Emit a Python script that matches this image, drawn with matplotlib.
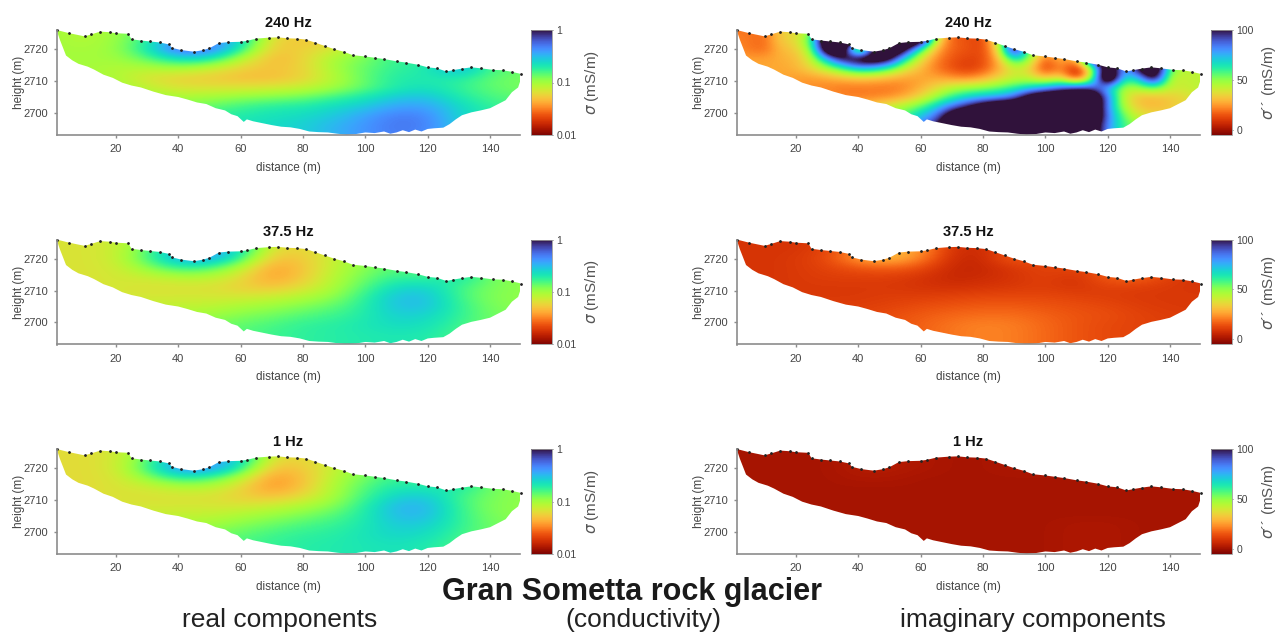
import numpy as np
import matplotlib
matplotlib.use("Agg")
import matplotlib.pyplot as plt
from matplotlib.patches import Polygon

plt.rcParams['font.family'] = ['Liberation Sans', 'DejaVu Sans']

W, H = 1280, 634

# ground surface (electrodes) and lower limit of the section
top_x = [1, 5, 10, 12, 15, 18, 20, 24, 25, 28, 31, 34, 37, 38, 41, 45, 48, 50, 53, 56, 60, 62, 65, 69, 72, 75, 78, 81,
         84, 87, 90, 93, 96, 100, 103, 106, 110, 113, 117, 120, 123, 126, 128, 131, 134, 137, 141, 144, 147, 150]
top_h = [2726, 2725, 2724, 2724.6, 2725.5, 2725.3, 2725, 2724.8, 2723.1, 2722.7, 2722.4, 2722.1, 2721.5, 2720.4, 2719.7,
         2719.2, 2719.7, 2720.3, 2721.9, 2722.2, 2722.3, 2722.6, 2723.3, 2723.6, 2723.7, 2723.4, 2723.3, 2723,
         2722, 2721, 2720, 2719.2, 2718.1, 2717.7, 2717.3, 2716.9, 2716.2, 2715.8, 2715.1, 2714.3, 2714,
         2713, 2713.4, 2713.9, 2714.3, 2714, 2713.5, 2713.4, 2712.9, 2712.2]
bot_x = [150, 149, 147, 145, 143, 140, 137, 134, 131, 129, 127, 125, 122, 120, 118, 116, 114, 112, 110, 108, 106, 103,
         100, 97, 94, 91, 88, 85, 82, 79, 76, 73, 70, 67, 64, 62, 61, 59, 57, 55, 52, 49, 46, 43, 40, 36, 32, 28, 25,
         22, 19, 16, 13, 11, 8, 6, 4, 3, 2, 1]
bot_h = [2711, 2708, 2706.5, 2704, 2703, 2701.5, 2700.8, 2700.2, 2699.3, 2698, 2696.5, 2695.4, 2695.2, 2695, 2694.2,
         2694.8, 2694, 2694.6, 2693.9, 2693.5, 2694.2, 2693.7, 2693.9, 2693.4, 2693.2, 2693.5, 2693.9, 2694,
         2694.2, 2695, 2695.5, 2695.7, 2696.2, 2696.8, 2697.4, 2698, 2697.2, 2699, 2699.6, 2700.8, 2701.5, 2702.8,
         2703.3, 2704.2, 2705, 2705.6, 2706.7, 2708, 2708.6, 2709.5, 2711, 2712, 2713.6, 2714.5, 2715.4, 2716.5,
         2718, 2720.5, 2723, 2726]

heights = [2726, 2723, 2720, 2717, 2714, 2711, 2708, 2705, 2702, 2699, 2696, 2693]
x_10 = list(range(0, 151, 10))
x_5 = list(range(0, 151, 5))

# log10 of the real conductivity
real_240 = [
    [-1.00, -1.05, -1.00, -0.80, -0.30, -0.30, -0.50, -1.15, -1.20, -1.10, -0.95, -0.80, -0.80, -0.70, -0.85, -0.90],
    [-1.00, -1.05, -0.98, -0.75, -0.35, -0.35, -0.55, -1.25, -1.30, -1.25, -0.95, -0.80, -0.80, -0.50, -0.85, -0.90],
    [-1.00, -1.02, -0.98, -0.68, -0.20, -0.25, -0.70, -1.30, -1.25, -1.15, -0.95, -0.80, -0.80, -0.55, -0.85, -0.90],
    [-1.00, -1.00, -1.00, -0.85, -0.62, -0.65, -1.05, -1.35, -1.25, -1.00, -0.90, -0.75, -0.75, -0.60, -0.85, -0.90],
    [-1.00, -1.00, -1.05, -1.05, -1.00, -1.10, -1.25, -1.30, -1.25, -1.00, -0.85, -0.75, -0.70, -0.40, -0.80, -0.85],
    [-1.00, -1.00, -1.02, -1.18, -1.25, -1.27, -1.32, -1.32, -1.25, -1.05, -0.85, -0.70, -0.70, -0.70, -0.85, -0.90],
    [-1.00, -1.00, -1.00, -1.08, -1.18, -1.18, -1.18, -1.15, -1.10, -1.00, -0.85, -0.70, -0.65, -0.75, -0.85, -0.90],
    [-1.00, -1.00, -0.98, -0.98, -1.02, -1.00, -0.95, -0.92, -0.88, -0.78, -0.68, -0.55, -0.52, -0.70, -0.80, -0.85],
    [-0.95, -0.95, -0.95, -0.95, -0.92, -0.85, -0.78, -0.72, -0.70, -0.62, -0.55, -0.42, -0.42, -0.60, -0.75, -0.80],
    [-0.85, -0.85, -0.85, -0.85, -0.82, -0.75, -0.70, -0.65, -0.62, -0.55, -0.42, -0.30, -0.33, -0.60, -0.70, -0.80],
    [-0.80, -0.80, -0.80, -0.80, -0.80, -0.72, -0.66, -0.62, -0.58, -0.48, -0.38, -0.28, -0.32, -0.55, -0.70, -0.80],
    [-0.80, -0.80, -0.80, -0.80, -0.80, -0.72, -0.66, -0.62, -0.58, -0.48, -0.38, -0.30, -0.35, -0.55, -0.70, -0.80],
]
real_37 = [
    [-1.17, -1.17, -1.12, -0.90, -0.45, -0.40, -0.55, -1.10, -1.15, -1.05, -0.95, -0.85, -0.85, -0.75, -0.90, -0.95],
    [-1.17, -1.17, -1.12, -0.85, -0.50, -0.42, -0.60, -1.20, -1.25, -1.10, -0.95, -0.85, -0.85, -0.62, -0.90, -0.95],
    [-1.17, -1.17, -1.12, -0.80, -0.45, -0.40, -0.75, -1.30, -1.28, -1.10, -0.95, -0.85, -0.85, -0.62, -0.90, -0.95],
    [-1.17, -1.17, -1.14, -0.95, -0.75, -0.80, -1.05, -1.42, -1.30, -1.08, -0.92, -0.82, -0.85, -0.68, -0.90, -0.95],
    [-1.17, -1.17, -1.15, -1.12, -1.05, -1.05, -1.20, -1.42, -1.28, -1.05, -0.88, -0.75, -0.78, -0.65, -0.88, -0.95],
    [-1.17, -1.17, -1.15, -1.18, -1.18, -1.18, -1.25, -1.30, -1.20, -1.02, -0.82, -0.62, -0.60, -0.78, -0.90, -0.95],
    [-1.15, -1.15, -1.15, -1.15, -1.15, -1.15, -1.15, -1.12, -1.05, -0.95, -0.75, -0.52, -0.52, -0.78, -0.92, -0.95],
    [-1.15, -1.15, -1.12, -1.10, -1.08, -1.08, -1.02, -0.98, -0.92, -0.85, -0.72, -0.52, -0.52, -0.75, -0.90, -0.95],
    [-1.12, -1.12, -1.10, -1.05, -1.02, -0.98, -0.92, -0.88, -0.82, -0.78, -0.70, -0.58, -0.60, -0.75, -0.88, -0.92],
    [-1.10, -1.10, -1.05, -1.00, -0.96, -0.90, -0.85, -0.80, -0.75, -0.72, -0.68, -0.62, -0.65, -0.78, -0.88, -0.92],
    [-1.05, -1.05, -1.00, -0.98, -0.92, -0.86, -0.82, -0.78, -0.74, -0.72, -0.70, -0.68, -0.70, -0.80, -0.88, -0.92],
    [-1.05, -1.05, -1.00, -0.98, -0.92, -0.86, -0.82, -0.78, -0.74, -0.72, -0.70, -0.68, -0.70, -0.80, -0.88, -0.92],
]
real_1 = [
    [-1.20, -1.20, -1.15, -0.90, -0.40, -0.40, -0.55, -1.10, -1.15, -1.05, -0.95, -0.85, -0.85, -0.70, -0.90, -0.95],
    [-1.20, -1.20, -1.15, -0.85, -0.45, -0.42, -0.55, -1.20, -1.25, -1.10, -0.95, -0.85, -0.85, -0.55, -0.90, -0.95],
    [-1.20, -1.20, -1.15, -0.78, -0.35, -0.35, -0.70, -1.32, -1.28, -1.10, -0.92, -0.80, -0.85, -0.58, -0.90, -0.95],
    [-1.20, -1.20, -1.17, -0.95, -0.72, -0.78, -1.05, -1.45, -1.32, -1.05, -0.88, -0.75, -0.80, -0.65, -0.90, -0.95],
    [-1.20, -1.20, -1.17, -1.14, -1.05, -1.05, -1.22, -1.45, -1.30, -1.02, -0.82, -0.68, -0.70, -0.68, -0.88, -0.95],
    [-1.20, -1.20, -1.17, -1.18, -1.18, -1.18, -1.25, -1.30, -1.20, -1.00, -0.78, -0.58, -0.55, -0.78, -0.90, -0.95],
    [-1.18, -1.18, -1.17, -1.15, -1.15, -1.15, -1.15, -1.10, -1.02, -0.92, -0.72, -0.48, -0.48, -0.76, -0.92, -0.95],
    [-1.15, -1.15, -1.15, -1.10, -1.08, -1.08, -1.02, -0.96, -0.90, -0.82, -0.70, -0.50, -0.50, -0.75, -0.90, -0.95],
    [-1.12, -1.12, -1.10, -1.05, -1.02, -0.98, -0.92, -0.86, -0.80, -0.76, -0.68, -0.56, -0.58, -0.75, -0.88, -0.92],
    [-1.10, -1.10, -1.05, -1.00, -0.96, -0.90, -0.84, -0.78, -0.74, -0.72, -0.66, -0.60, -0.64, -0.78, -0.88, -0.92],
    [-1.05, -1.05, -1.00, -0.98, -0.92, -0.86, -0.80, -0.76, -0.72, -0.70, -0.68, -0.65, -0.70, -0.80, -0.88, -0.92],
    [-1.05, -1.05, -1.00, -0.98, -0.92, -0.86, -0.80, -0.76, -0.72, -0.70, -0.68, -0.65, -0.70, -0.80, -0.88, -0.92],
]

# imaginary conductivity in mS/m, values above 100 are off the scale
imag_240 = [
    [20, 20, 18, 34, 36, 45, 130, 130, 130, 130, 130, 130, 130, 60, 14, 16, 12, 60, 90, 45, 40, 30, 30, 40, 60, 70, 60, 60, 45, 45, 45],
    [22, 20, 18, 34, 36, 60, 130, 130, 130, 130, 130, 130, 130, 40, 16, 15, 10, 45, 90, 45, 40, 30, 30, 40, 120, 70, 100, 130, 50, 45, 45],
    [24, 20, 18, 30, 33, 50, 130, 130, 0, 100, 130, 110, 60, 28, 17, 15, 12, 35, 120, 50, 35, 28, 30, 110, 130, 60, 120, 130, 60, 45, 45],
    [25, 26, 26, 28, 30, 42, 75, 105, 120, 125, 110, 65, 38, 22, 15, 12, 13, 28, 70, 50, 14, 32, 25, 120, 130, 60, 100, 130, 60, 45, 45],
    [27, 27, 27, 27, 29, 36, 46, 58, 72, 70, 58, 40, 30, 20, 14, 10, 14, 26, 42, 35, 8, 24, 2, 40, 130, 70, 110, 130, 55, 44, 44],
    [27, 27, 27, 27, 25, 25, 27, 30, 32, 31, 28, 26, 26, 27, 24, 22, 27, 35, 42, 42, 30, 38, 2, 45, 150, 65, 70, 120, 42, 42, 44],
    [27, 27, 27, 27, 25, 23, 22, 20, 20, 20, 20, 22, 28, 36, 44, 48, 50, 54, 60, 66, 75, 85, 95, 90, 72, 45, 48, 55, 42, 42, 44],
    [27, 27, 27, 27, 27, 25, 24, 22, 21, 22, 23, 28, 36, 48, 60, 68, 72, 75, 85, 115, 125, 130, 130, 130, 85, 42, 30, 30, 33, 36, 42],
    [27, 27, 27, 27, 27, 27, 27, 28, 30, 36, 43, 48, 56, 70, 85, 100, 118, 130, 130, 130, 130, 130, 130, 130, 82, 45, 32, 30, 32, 36, 42],
    [27, 27, 27, 27, 27, 27, 27, 32, 38, 43, 48, 58, 72, 85, 120, 130, 130, 130, 130, 130, 130, 130, 130, 130, 85, 55, 40, 36, 36, 40, 44],
    [27, 27, 27, 27, 27, 27, 30, 36, 43, 48, 56, 68, 85, 100, 130, 130, 130, 130, 130, 130, 130, 130, 130, 120, 80, 60, 48, 44, 44, 44, 46],
    [27, 27, 27, 27, 27, 27, 30, 36, 43, 48, 56, 68, 85, 100, 130, 130, 130, 130, 130, 130, 130, 130, 130, 120, 80, 60, 48, 44, 44, 44, 46],
]
imag_37 = [
    [9, 9, 9, 11, 20, 25, 22, 8, 7, 15, 10, 12, 14, 20, 10, 9],
    [9, 9, 9, 12, 22, 30, 26, 8, 7, 15, 10, 12, 14, 20, 10, 9],
    [9, 9, 10, 13, 26, 32, 22, 7, 6, 18, 11, 12, 14, 20, 10, 9],
    [9, 9, 10, 12, 15, 17, 14, 6, 6, 10, 12, 13, 14, 20, 10, 9],
    [9, 9, 10, 11, 11, 11, 9, 6, 7, 9, 12, 8, 17, 18, 11, 9],
    [9, 9, 10, 10, 10, 10, 9, 8, 9, 10, 11, 9, 12, 11, 10, 9],
    [10, 10, 10, 10, 10, 11, 11, 12, 13, 13, 13, 12, 11, 10, 10, 10],
    [10, 10, 10, 11, 11, 12, 14, 15, 16, 16, 15, 14, 13, 11, 10, 10],
    [10, 10, 10, 11, 12, 14, 16, 18, 19, 19, 17, 15, 14, 12, 11, 10],
    [10, 10, 10, 11, 12, 14, 17, 20, 22, 21, 18, 15, 13, 12, 11, 10],
    [10, 10, 10, 11, 12, 14, 17, 20, 22, 21, 18, 15, 13, 12, 11, 10],
    [10, 10, 10, 11, 12, 14, 17, 20, 22, 21, 18, 15, 13, 12, 11, 10],
]
imag_1 = [
    [1, 1, 1, 1, 3, 3, 2, 1, 1, 2, 2, 2, 2, 2, 1, 1],
    [1, 1, 1, 1, 3, 3, 2, 1, 1, 2, 2, 2, 2, 2, 1, 1],
    [1, 1, 1, 1, 3, 3, 2, 1, 1, 2, 2, 2, 2, 2, 1, 1],
    [1, 1, 1, 1, 2, 2, 1, 1, 1, 1, 1, 1, 1, 2, 1, 1],
    [1, 1, 1, 1, 1, 1, 1, 1, 1, 1, 1, 1, 1, 1, 1, 1],
    [1, 1, 1, 1, 1, 1, 1, 1, 1, 1, 1, 1, 1, 1, 1, 1],
    [1, 1, 1, 1, 1, 1, 1, 1, 1, 1, 1, 1, 1, 1, 1, 1],
    [1, 1, 1, 1, 1, 1, 1, 1, 1, 1, 1, 1, 1, 1, 1, 1],
    [1, 1, 1, 1, 1, 1, 1, 1, 1, 1, 1, 2, 2, 1, 1, 1],
    [1, 1, 1, 1, 1, 1, 1, 1, 1, 1, 1, 2, 2, 1, 1, 1],
    [1, 1, 1, 1, 1, 1, 1, 1, 1, 1, 1, 2, 2, 1, 1, 1],
    [1, 1, 1, 1, 1, 1, 1, 1, 1, 1, 1, 2, 2, 1, 1, 1],
]

titles = ['240 Hz', '37.5 Hz', '1 Hz']
real_grids = [real_240, real_37, real_1]
imag_grids = [imag_240, imag_37, imag_1]
imag_x = [x_5, x_10, x_10]
row_offset = [0, 209.5, 419]

GREY = '#444444'
SPINE = '#8c8c8c'


def px_axes(fig, left, right, top, bottom):
    return fig.add_axes([left / W, 1 - bottom / H, (right - left) / W, (bottom - top) / H])


def draw_panel(fig, grid, xs, left, dy, title, vmin, vmax, cticks, clabels, clabel):
    ax = px_axes(fig, left, left + 463, 30 + dy, 135 + dy)
    dx = (xs[1] - xs[0]) / 2
    ext = [xs[0] - dx, xs[-1] + dx, heights[-1] - 1.5, heights[0] + 1.5]
    im = ax.imshow(np.array(grid, dtype=float), extent=ext, origin='upper', aspect='auto', cmap='turbo_r',
                   vmin=vmin, vmax=vmax, interpolation='bicubic', interpolation_stage='data')
    outline = Polygon(np.column_stack([top_x + bot_x, top_h + bot_h]), closed=True, transform=ax.transData)
    im.set_clip_path(outline)
    ax.plot(top_x, top_h, ls='none', marker='o', ms=1.0, color='#222222', clip_on=False)
    ax.set_xlim(1.1, 149.6)
    ax.set_ylim(2693.1, 2726)
    ax.set_xticks([20, 40, 60, 80, 100, 120, 140])
    ax.set_yticks([2700, 2710, 2720])
    ax.tick_params(colors=GREY, color=SPINE, labelsize=8, length=2.5, width=1, pad=4)
    ax.spines[['top', 'right']].set_visible(False)
    ax.spines[['left', 'bottom']].set_color(SPINE)
    ax.spines[['left', 'bottom']].set_linewidth(1.2)
    ax.set_xlabel('distance (m)', fontsize=8.5, color=GREY, labelpad=5.5)
    ax.set_ylabel('height (m)', fontsize=8.5, color=GREY, labelpad=-1)
    ax.set_title(title, fontsize=10.5, fontweight='bold', color='#111111', pad=2)

    cax = px_axes(fig, left + 474, left + 495, 30 + dy, 135 + dy)
    cb = fig.colorbar(im, cax=cax, ticks=cticks)
    cb.ax.set_yticklabels(clabels)
    cb.ax.tick_params(colors=GREY, labelsize=7.5, length=1, width=0.5, pad=2, color=GREY)
    cb.outline.set_edgecolor('#999999')
    cb.outline.set_linewidth(0.6)
    cb.set_label(clabel, fontsize=11, color='#555555', labelpad=5)


fig = plt.figure(figsize=(W / 100, H / 100), dpi=100)

for i in range(3):
    draw_panel(fig, real_grids[i], x_10, 57, row_offset[i], titles[i], -2, 0,
               [-2, -1, 0], ['0.01', '0.1', '1'], r'$\sigma$ (mS/m)')
    draw_panel(fig, imag_grids[i], imag_x[i], 737, row_offset[i], titles[i], -5, 100,
               [0, 50, 100], ['0', '50', '100'], r"$\sigma$´´ (mS/m)")

fig.text(632 / W, 1 - 592 / H, 'Gran Sometta rock glacier', fontsize=22, fontweight='bold', color='#1a1a1a',
         ha='center', va='center')
fig.text(280 / W, 1 - 620 / H, 'real components', fontsize=19, color='#222222', ha='center', va='center')
fig.text(643 / W, 1 - 620 / H, '(conductivity)', fontsize=19, color='#222222', ha='center', va='center')
fig.text(1033 / W, 1 - 620 / H, 'imaginary components', fontsize=19, color='#222222', ha='center', va='center')

fig.savefig('out.png', dpi=100)
